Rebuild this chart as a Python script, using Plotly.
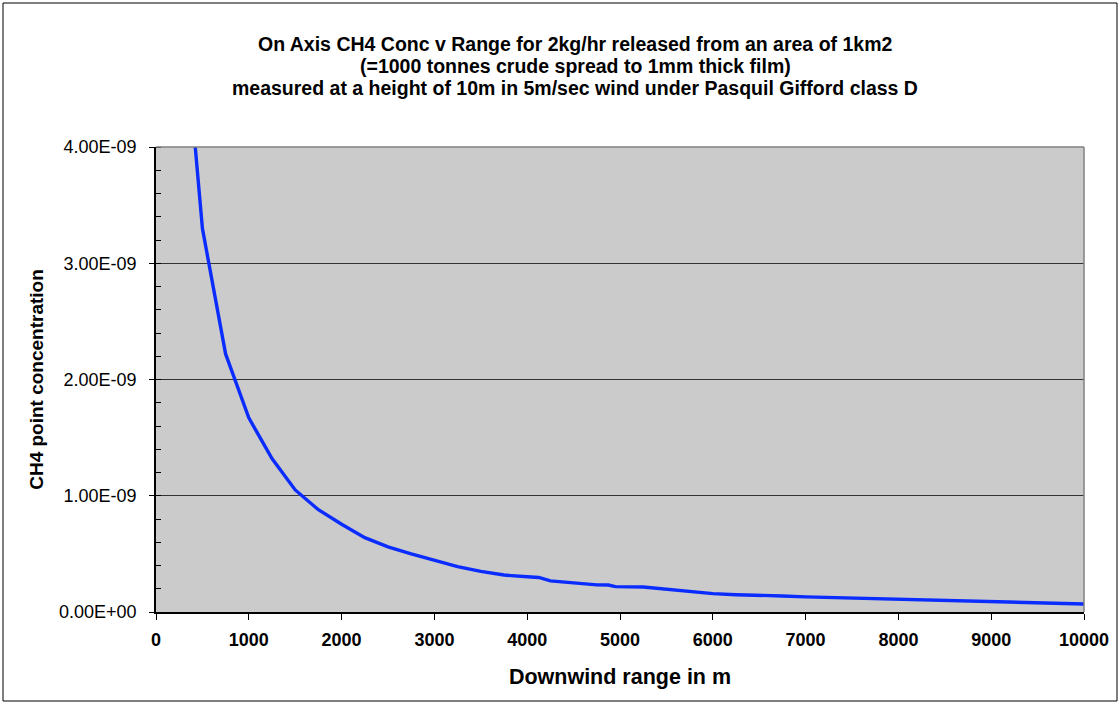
import plotly.graph_objects as go

# ---- data ----
range_m = [250, 500, 750, 1000, 1250, 1500, 1750, 2000, 2250, 2500, 2750, 3000,
           3250, 3500, 3750, 4000, 4125, 4250, 4500, 4750, 4875, 4950, 5250,
           5500, 5750, 6000, 6250, 6500, 6750, 7000, 7500, 8000, 8500, 9000,
           9500, 10000]
conc = [5.57e-9, 3.30e-9, 2.22e-9, 1.67e-9, 1.32e-9, 1.05e-9, 0.88e-9, 0.755e-9,
        0.64e-9, 0.56e-9, 0.50e-9, 0.445e-9, 0.39e-9, 0.35e-9, 0.318e-9,
        0.303e-9, 0.297e-9, 0.268e-9, 0.250e-9, 0.233e-9, 0.232e-9, 0.218e-9,
        0.215e-9, 0.195e-9, 0.172e-9, 0.158e-9, 0.149e-9, 0.147e-9, 0.138e-9,
        0.130e-9, 0.120e-9, 0.111e-9, 0.099e-9, 0.088e-9, 0.078e-9, 0.069e-9]

x_ticks = [0, 1000, 2000, 3000, 4000, 5000, 6000, 7000, 8000, 9000, 10000]
y_tick_vals = [0, 1e-9, 2e-9, 3e-9, 4e-9]
y_tick_text = ["0.00E+00", "1.00E-09", "2.00E-09", "3.00E-09", "4.00E-09"]

title_lines = ["On Axis CH4 Conc v Range for 2kg/hr released from an area of 1km2",
               "(=1000 tonnes crude spread to 1mm thick film)",
               "measured at a height of 10m in 5m/sec wind under Pasquil Gifford class D"]
x_title = "Downwind range in m"
y_title = "CH4 point concentration"

# ---- layout geometry (pixels) ----
W, H = 1120, 704
L, R, T, B = 156, 1084, 147, 612
FONT = "Liberation Sans, Arial, sans-serif"


def px(x):
    return (x - L) / (R - L)


def py(y):
    return (B - y) / (B - T)


fig = go.Figure()
fig.add_trace(go.Scatter(x=range_m, y=conc, mode="lines",
                         line=dict(color="#0a2cff", width=3.4),
                         showlegend=False, hoverinfo="x+y"))

fig.update_layout(
    width=W, height=H,
    margin=dict(l=L, r=W - R, t=T, b=H - B, pad=0),
    paper_bgcolor="white", plot_bgcolor="#cbcbcb",
    font=dict(family=FONT, color="black", size=18),
    showlegend=False,
)

fig.update_xaxes(range=[0, 10000], tickmode="array", tickvals=x_ticks,
                 ticktext=[str(v) for v in x_ticks],
                 tickfont=dict(family=FONT, size=18, color="black", weight="bold"),
                 ticks="outside", ticklen=6, tickcolor="black", tickwidth=1,
                 showgrid=False, zeroline=False,
                 showline=True, linecolor="black", linewidth=1.5,
                 ticklabelstandoff=5,
                 title=dict(text="<b>" + x_title + "</b>", standoff=20,
                            font=dict(family=FONT, size=21.5)))

fig.update_yaxes(range=[0, 4e-9], tickmode="array", tickvals=y_tick_vals,
                 ticktext=y_tick_text,
                 tickfont=dict(family=FONT, size=18, color="black"),
                 ticks="outside", ticklen=5, tickcolor="black", tickwidth=1,
                 ticklabelstandoff=9,
                 showgrid=True, gridcolor="#333333", gridwidth=1,
                 zeroline=False,
                 showline=True, linecolor="black", linewidth=1.5,
                 minor=dict(tickmode="linear", tick0=0, dtick=0.2e-9,
                            ticks="inside", ticklen=5, tickcolor="black",
                            showgrid=False),
                 title=dict(text="<b>" + y_title + "</b>", standoff=10,
                            font=dict(family=FONT, size=19)))

# top and right borders of plot area (grey)
fig.add_shape(type="line", xref="paper", yref="paper", x0=0, x1=1, y0=1, y1=1,
              line=dict(color="#808080", width=1.5))
fig.add_shape(type="line", xref="paper", yref="paper", x0=1, x1=1, y0=0, y1=1,
              line=dict(color="#808080", width=1.5))

# outer chart border
fig.add_shape(type="rect", xref="paper", yref="paper",
              x0=px(3), x1=px(1117), y0=py(701), y1=py(3),
              line=dict(color="black", width=1), fillcolor="rgba(0,0,0,0)")

# title
for i, line in enumerate(title_lines):
    fig.add_annotation(text="<b>" + line + "</b>", xref="paper", yref="paper",
                       x=px(575), y=py(44 + 22 * i), showarrow=False,
                       xanchor="center", yanchor="middle",
                       font=dict(family=FONT, size=19.5, color="black"))

fig.write_html("out.html",
               config={"displayModeBar": False},
               post_script="document.body.style.margin='0';"
                           "document.body.style.overflow='hidden';")
